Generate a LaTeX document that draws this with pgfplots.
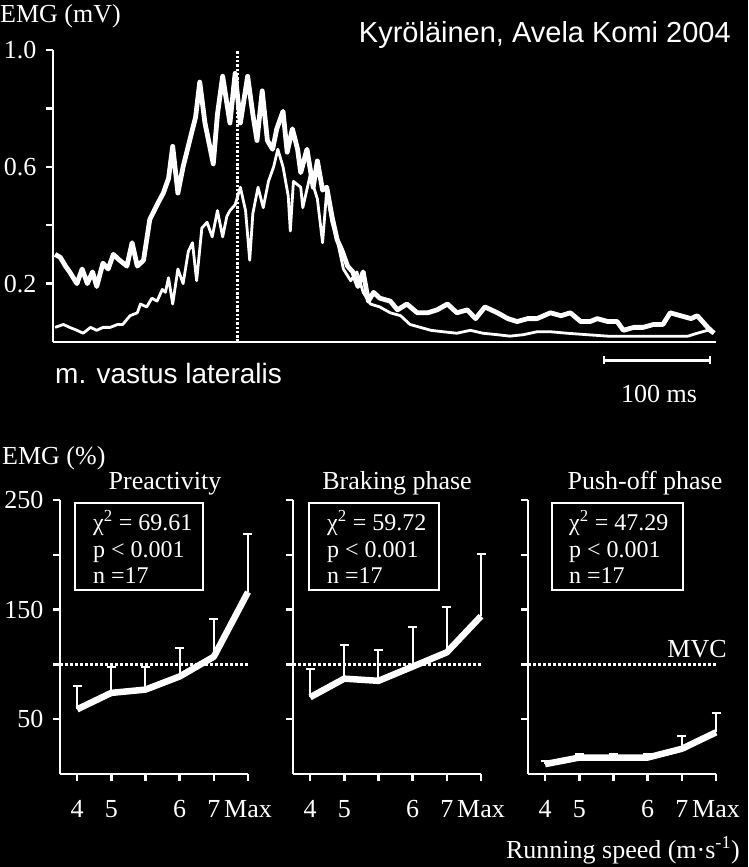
\documentclass[border=0pt]{standalone}
\usepackage{pgfplots}
\pgfplotsset{compat=1.18}
\usepackage{fontspec}
\setmainfont{Liberation Serif}
\newfontfamily\arial{Liberation Sans}
\newcommand\tl{\fontsize{26}{28}\selectfont}
\pgfplotsset{
  common/.style={
    scale only axis, clip=false,
    axis x line*=bottom, axis y line*=left,
    axis line style={white, line width=2.5pt, -},
    tick style={white, line width=2.5pt},
    major tick length=7pt, tick align=outside,
    /pgf/number format/assume math mode=true,
    tick label style={text=white, font=\tl},
  },
  panel/.style={common,
    width=188pt, height=274pt,
    xmin=-0.5, xmax=5, ymin=0, ymax=250,
    xtick={0,1,2,3,4,5}, xticklabels={4,5,,6,7,Max},
    xticklabel style={yshift=-16pt},
    ytick={50,100,150,200,250},
    yticklabel style={xshift=-6pt},
  },
  mvc/.style={white, line width=2.5pt, dash pattern=on 2.5pt off 2.5pt},
  emg/.style={white, line width=6.5pt, line join=round,
    error bars/.cd, y dir=plus, y explicit, error mark=|,
    error bar style={white, line width=2pt, line cap=butt},
    error mark options={white, line width=2pt, mark size=4.5pt}},
}
\begin{document}
\begin{tikzpicture}[x=1pt,y=1pt,color=white]
\fill[black] (0,0) rectangle (748,867);
% ---------- top panel ----------
\begin{axis}[common,
  at={(53pt,525pt)}, anchor=south west,
  width=663pt, height=292pt,
  xmin=0, xmax=637, ymin=0, ymax=1.0,
  xtick=\empty,
  ytick={0.2,0.4,0.6,0.8,1.0}, yticklabels={0.2,,0.6,,1.0},
  yticklabel style={xshift=-6pt},
]
\addplot[white, line width=3pt, dash pattern=on 2.5pt off 1.8pt] coordinates {(177,0) (177,1.0)};
\addplot[white, line width=2.8pt, line join=round] coordinates {
(2,0.05)(10,0.06)(16,0.05)(23,0.04)(29,0.03)(36,0.05)(42,0.04)(48,0.05)(55,0.05)(62,0.06)
(67,0.06)(74,0.09)(81,0.10)(84,0.13)(90,0.12)(95,0.15)(100,0.14)(105,0.18)(108,0.17)(111,0.22)
(115,0.13)(120,0.25)(125,0.20)(130,0.31)(134,0.34)(138,0.21)(143,0.39)(148,0.41)(153,0.36)(158,0.45)
(163,0.36)(167,0.43)(170,0.45)(175,0.47)(180,0.53)(185,0.45)(189,0.28)(192,0.44)(197,0.53)(202,0.46)
(207,0.55)(212,0.60)(216,0.66)(221,0.60)(226,0.50)(228,0.38)(231,0.55)(238,0.53)(240,0.46)(247,0.57)
(254,0.49)(259,0.34)(263,0.52)(268,0.41)(273,0.35)(279,0.25)(286,0.21)(292,0.24)(298,0.17)(305,0.13)
(314,0.12)(324,0.10)(334,0.09)(343,0.06)(353,0.05)(363,0.04)(375,0.035)(388,0.03)(401,0.04)(413,0.03)
(427,0.025)(439,0.02)(452,0.025)(465,0.035)(478,0.035)(494,0.03)(513,0.025)(533,0.02)(552,0.02)(571,0.02)
(590,0.02)(610,0.02)(619,0.03)(629,0.04)(635,0.03)};
\addplot[white, line width=4.8pt, line join=round] coordinates {
(2,0.30)(7,0.29)(12,0.26)(16,0.24)(23,0.20)(28,0.25)(33,0.20)(38,0.24)(42,0.19)(48,0.27)
(53,0.25)(58,0.30)(64,0.28)(71,0.26)(76,0.34)(81,0.26)(87,0.28)(93,0.42)(100,0.47)(106,0.51)
(111,0.56)(115,0.67)(120,0.51)(125,0.60)(132,0.70)(137,0.77)(141,0.89)(146,0.75)(154,0.61)(158,0.78)
(163,0.91)(170,0.75)(175,0.92)(180,0.75)(187,0.91)(192,0.78)(196,0.69)(201,0.86)(206,0.69)(211,0.66)
(215,0.73)(221,0.79)(225,0.65)(230,0.73)(235,0.66)(238,0.58)(244,0.66)(250,0.53)(254,0.62)(259,0.52)
(263,0.53)(268,0.43)(273,0.35)(278,0.31)(283,0.26)(288,0.24)(293,0.19)(298,0.24)(303,0.14)(308,0.17)
(314,0.15)(324,0.14)(331,0.11)(340,0.13)(350,0.10)(360,0.10)(369,0.11)(379,0.13)(388,0.10)(398,0.11)
(406,0.08)(415,0.12)(427,0.10)(437,0.08)(446,0.07)(456,0.08)(465,0.08)(478,0.10)(488,0.09)(497,0.10)
(507,0.07)(516,0.07)(523,0.08)(533,0.07)(542,0.07)(548,0.04)(558,0.05)(567,0.05)(577,0.06)(586,0.06)
(593,0.10)(603,0.09)(613,0.08)(619,0.09)(629,0.05)(635,0.03)};
% scale bar
\draw[white, line width=3pt] (axis cs:529,-0.062) -- (axis cs:631,-0.062);
\draw[white, line width=2pt] (axis cs:529,-0.075) -- (axis cs:529,-0.049);
\draw[white, line width=2pt] (axis cs:631,-0.075) -- (axis cs:631,-0.049);
\end{axis}
\node[anchor=base, inner sep=0] at (659,464) {\tl 100 ms};
\node[anchor=north west, inner sep=0] at (0,863) {\tl EMG (mV)};
\node[anchor=base east, inner sep=0] at (731,824) {\arial\fontsize{29}{31}\selectfont Kyröläinen, Avela Komi 2004};
\node[anchor=base west, inner sep=0] at (55,483) {\arial\fontsize{28}{30}\selectfont m. vastus lateralis};
% ---------- bottom panels ----------
\begin{axis}[panel, at={(60pt,93pt)}, anchor=south west, yticklabels={50,,150,,250}]
\addplot[mvc] coordinates {(-0.5,100) (5,100)};
\addplot[emg] table[x=x, y=y, y error=e] {
x y e
0 59 21
1 74 24
2 77 21
3 89 26
4 107 34
5 166 53
};
\end{axis}
\begin{axis}[panel, at={(293pt,93pt)}, anchor=south west, yticklabels={}]
\addplot[mvc] coordinates {(-0.5,100) (5,100)};
\addplot[emg] table[x=x, y=y, y error=e] {
x y e
0 70 26
1 87 31
2 85 28
3 98 36
4 111 41
5 144 57
};
\end{axis}
\begin{axis}[panel, at={(528pt,93pt)}, anchor=south west, yticklabels={}]
\addplot[mvc] coordinates {(-0.5,100) (5,100)};
\addplot[emg] table[x=x, y=y, y error=e] {
x y e
0 9 3
1 15 3
2 15 3
3 15 3
4 23 12
5 38 18
};
\end{axis}
% panel titles and labels
\node[anchor=base west, inner sep=0] at (2,402) {\tl EMG (\%)};
\node[anchor=base, inner sep=0] at (165,377) {\tl Preactivity};
\node[anchor=base, inner sep=0] at (397,377) {\tl Braking phase};
\node[anchor=base, inner sep=0] at (645,377) {\tl Push-off phase};
\node[anchor=base, inner sep=0] at (697,209) {\tl MVC};
\node[anchor=base east, inner sep=0] at (740,9) {\tl Running speed (m·s\textsuperscript{-1})};
% stats boxes
\def\sfs{\fontsize{24}{26}\selectfont}
\draw[white, line width=1.8pt] (75,277) rectangle (203,364);
\node[anchor=base west, inner sep=0] at (93,336) {\sfs χ\textsuperscript{2} = 69.61};
\node[anchor=base west, inner sep=0] at (93,309) {\sfs p < 0.001};
\node[anchor=base west, inner sep=0] at (93,283) {\sfs n =17};
\draw[white, line width=1.8pt] (309,277) rectangle (439,364);
\node[anchor=base west, inner sep=0] at (327,336) {\sfs χ\textsuperscript{2} = 59.72};
\node[anchor=base west, inner sep=0] at (327,309) {\sfs p < 0.001};
\node[anchor=base west, inner sep=0] at (327,283) {\sfs n =17};
\draw[white, line width=1.8pt] (552,277) rectangle (683,364);
\node[anchor=base west, inner sep=0] at (569,336) {\sfs χ\textsuperscript{2} = 47.29};
\node[anchor=base west, inner sep=0] at (569,309) {\sfs p < 0.001};
\node[anchor=base west, inner sep=0] at (569,283) {\sfs n =17};
\end{tikzpicture}
\end{document}
